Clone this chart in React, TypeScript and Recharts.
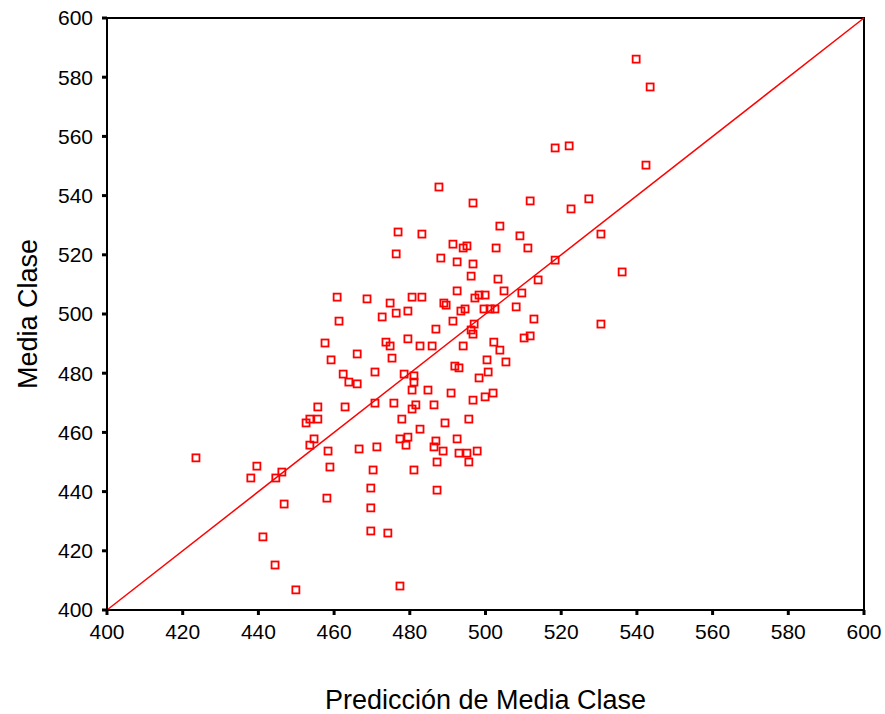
import { ScatterChart, Scatter, XAxis, YAxis, ReferenceLine, ReferenceArea } from 'recharts';

const prediccion = [
  539.8, 543.5, 518.4, 522.1, 542.4, 487.7, 511.8, 496.7, 522.6, 527.3,
  503.8, 509.1, 530.5, 476.9, 483.2, 491.4, 494.1, 495.1, 502.8, 511.2,
  476.4, 488.2, 492.5, 496.7, 518.4, 496.2, 503.3, 513.9, 536.1, 492.5,
  504.9, 509.6, 460.8, 468.7, 480.6, 483.2, 489.0, 489.6, 497.2, 498.3,
  499.9, 474.8, 461.3, 472.7, 476.4, 479.5, 491.4, 493.5, 494.6, 499.6,
  501.2, 502.5, 508.1, 512.8, 497.0, 496.7, 496.2, 486.9, 510.2, 511.8,
  530.5, 457.6, 473.7, 474.8, 479.5, 482.7, 485.9, 494.1, 502.2, 503.8,
  459.2, 466.1, 475.3, 500.4, 505.4, 491.9, 493.0, 500.7, 498.3, 462.4,
  463.9, 466.1, 470.8, 478.5, 481.1, 481.1, 480.6, 484.8, 490.9, 496.7,
  499.9, 502.0, 455.7, 462.9, 470.8, 475.8, 481.6, 480.6, 486.4, 452.6,
  453.6, 455.7, 477.9, 482.7, 489.3, 495.6, 454.7, 453.6, 458.4, 466.6,
  471.3, 477.4, 479.5, 479.0, 486.9, 486.4, 488.8, 492.5, 493.0, 495.1,
  497.8, 487.2, 495.6, 458.9, 470.3, 481.1, 423.5, 439.6, 438.0, 444.6,
  446.2, 446.8, 458.1, 469.7, 487.2, 469.7, 441.2, 469.7, 474.2, 444.4,
  449.9, 477.4,
];

const mediaClase = [
  586.1, 576.7, 556.1, 556.8, 550.3, 542.9, 538.2, 537.5, 535.5, 538.9,
  529.7, 526.4, 527.0, 527.7, 527.0, 523.6, 522.3, 523.0, 522.3, 522.3,
  520.3, 518.9, 517.6, 516.9, 518.2, 512.8, 511.8, 511.5, 514.2, 507.8,
  507.8, 507.1, 505.7, 505.1, 505.7, 505.7, 503.7, 503.0, 505.4, 506.4,
  506.4, 503.7, 497.6, 499.0, 500.3, 501.0, 497.6, 501.0, 501.7, 501.7,
  501.7, 501.7, 502.4, 498.3, 496.6, 493.2, 494.6, 494.9, 491.9, 492.6,
  496.6, 490.2, 490.5, 489.2, 491.6, 489.2, 489.2, 489.2, 490.5, 487.8,
  484.5, 486.5, 485.1, 484.5, 483.8, 482.4, 481.8, 480.4, 478.4, 479.7,
  477.0, 476.4, 480.4, 479.7, 479.1, 477.0, 474.3, 474.3, 473.3, 470.9,
  472.0, 473.3, 468.6, 468.6, 469.9, 469.9, 469.3, 467.9, 469.3, 463.2,
  464.5, 464.5, 464.5, 461.1, 463.2, 464.5, 457.8, 455.7, 453.7, 454.4,
  455.1, 457.8, 458.4, 455.7, 457.1, 455.1, 453.7, 457.8, 453.0, 453.0,
  453.7, 450.0, 450.0, 448.3, 447.3, 447.3, 451.4, 448.6, 444.6, 444.6,
  446.6, 435.8, 437.8, 441.2, 440.5, 434.5, 424.7, 426.7, 426.0, 415.2,
  406.8, 408.1,
];

const ticks = [400, 420, 440, 460, 480, 500, 520, 540, 560, 580, 600];

const data = prediccion.map((x, i) => ({ x, y: mediaClase[i] }));

const font = '"Liberation Sans", Arial, sans-serif';

const Square = (props: any) => {
  const { cx, cy } = props;
  return (
    <rect x={cx - 3.5} y={cy - 3.5} width={7} height={7} fill="none" stroke="#ff0000" strokeWidth={1.8} />
  );
};

export default function App() {
  return (
    <div style={{ fontFamily: font }}>
      <style>{'body { margin: 0; }'}</style>
      <ScatterChart width={885} height={714} margin={{ top: 18, right: 21, left: 0, bottom: 0 }}>
        <XAxis
          dataKey="x"
          type="number"
          domain={[400, 600]}
          ticks={ticks}
          height={104}
          tickSize={5}
          tickMargin={9}
          tick={{ fill: '#000', fontSize: 21, fontFamily: font }}
          axisLine={{ stroke: '#000', strokeWidth: 2 }}
          tickLine={{ stroke: '#000', strokeWidth: 3 }}
          label={{ value: 'Predicción de Media Clase', position: 'insideBottom', offset: 5, fill: '#000', fontSize: 27, fontFamily: font }}
        />
        <YAxis
          dataKey="y"
          type="number"
          domain={[400, 600]}
          ticks={ticks}
          width={107}
          tickSize={5}
          tickMargin={9}
          tick={{ fill: '#000', fontSize: 21, fontFamily: font }}
          axisLine={{ stroke: '#000', strokeWidth: 2 }}
          tickLine={{ stroke: '#000', strokeWidth: 3 }}
          label={{ value: 'Media Clase', angle: -90, position: 'insideLeft', offset: 27, fill: '#000', fontSize: 27, fontFamily: font, style: { textAnchor: 'middle' } }}
        />
        <ReferenceArea x1={400} x2={600} y1={400} y2={600} fill="none" stroke="#000" strokeWidth={2} />
        <ReferenceLine segment={[{ x: 400, y: 400 }, { x: 600, y: 600 }]} stroke="#ff0000" strokeWidth={1.5} />
        <Scatter data={data} shape={Square} isAnimationActive={false} />
      </ScatterChart>
    </div>
  );
}
